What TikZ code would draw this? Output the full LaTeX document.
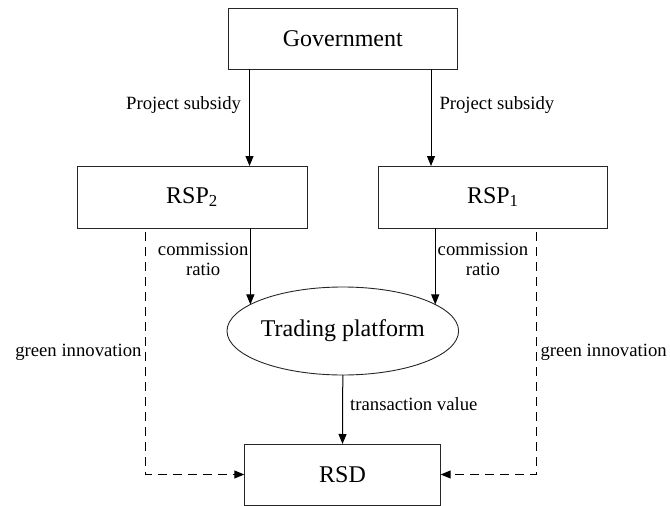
\documentclass[tikz,border=0pt]{standalone}
\usepackage{fontspec}
\setmainfont{Liberation Serif}
\usetikzlibrary{arrows.meta,shapes.geometric}
\begin{document}
\begin{tikzpicture}[x=1pt,y=1pt,
  box/.style={draw=black!85, line width=0.9pt, minimum width=229pt, minimum height=61pt, inner sep=0pt, outer sep=0pt, font=\fontsize{24}{28}\selectfont},
  ell/.style={draw=black!85, ellipse, line width=0.9pt, minimum width=229pt, minimum height=88pt, inner sep=0pt, outer sep=0pt, font=\fontsize{24}{28}\selectfont},
  arr/.style={line width=1pt, -{Triangle[length=10pt,width=8pt]}},
  darr/.style={line width=1pt, dash pattern=on 9pt off 6pt, -{Triangle[length=10pt,width=8pt]}},
  lab/.style={font=\fontsize{18.7}{20}\selectfont, inner sep=0pt, align=center}
]
\useasboundingbox (0,0) rectangle (670,-506);
\node[box] (gov) at (342.8,-38.7) {Government};
\node[box, minimum width=230pt, minimum height=62pt] (rsp2) at (192,-197) {RSP\textsubscript{2}};
\node[box, minimum height=62pt] (rsp1) at (492.8,-197) {RSP\textsubscript{1}};
\node[ell] (tp) at (342.8,-331) {Trading platform};
\node[box, minimum width=196.4pt, minimum height=61pt] (rsd) at (342.5,-474.5) {RSD};
\coordinate (a1) at (249.5,0);
\coordinate (a2) at (431,0);
\coordinate (dl) at (145,0);
\coordinate (dr) at (536,0);
\draw[arr] (gov.south -| a1) -- node[lab, pos=0.37, anchor=east, xshift=-8pt] {Project subsidy} (rsp2.north -| a1);
\draw[arr] (gov.south -| a2) -- node[lab, pos=0.37, anchor=west, xshift=8pt] {Project subsidy} (rsp1.north -| a2);
\draw[arr] (rsp2.south -| tp.164.5) -- node[lab, pos=0.415, anchor=east, xshift=-1.5pt] {commission\\ratio} (tp.164.5);
\draw[arr] (rsp1.south -| tp.16.6) -- node[lab, pos=0.415, anchor=west, xshift=2pt] {commission\\ratio} (tp.16.6);
\draw[arr] (tp.south) -- node[lab, pos=0.42, anchor=west, xshift=7pt] {transaction value} (rsd.north);
\draw[darr, shorten <=4pt] (rsp2.south -| dl) |- node[lab, pos=0.253, anchor=east, xshift=-3pt] {green innovation} (rsd.west);
\draw[darr, shorten <=4pt] (rsp1.south -| dr) |- node[lab, pos=0.253, anchor=west, xshift=4pt] {green innovation} (rsd.east);
\end{tikzpicture}
\end{document}
